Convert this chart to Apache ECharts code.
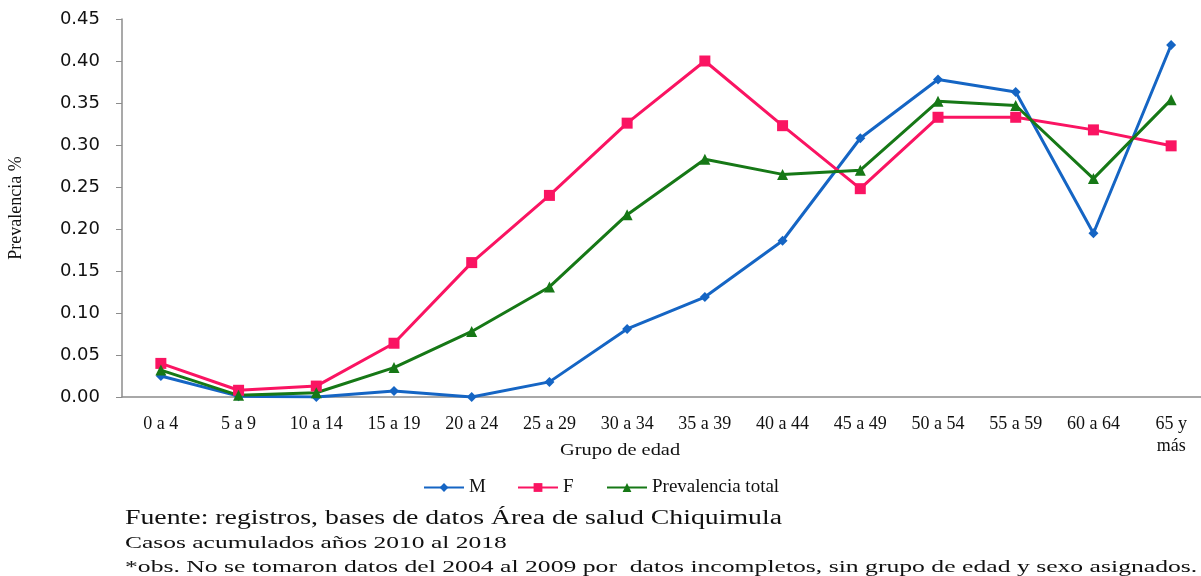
<!DOCTYPE html>
<html>
<head>
<meta charset="utf-8">
<script src="https://cdn.jsdelivr.net/npm/echarts@6/dist/echarts.min.js"></script>
<style>
  html, body { margin: 0; padding: 0; background: #fff; }
  #main { width: 1201px; height: 576px; }
</style>
</head>
<body>
<div id="main"></div>
<script>
// grupos de edad (eje x)
const categories = ['0 a 4', '5 a 9', '10 a 14', '15 a 19', '20 a 24', '25 a 29', '30 a 34',
  '35 a 39', '40 a 44', '45 a 49', '50 a 54', '55 a 59', '60 a 64', '65 y\nmás']
// prevalencia por sexo
const valuesM = [0.025, 0.001, 0.000, 0.007, 0.000, 0.018, 0.081, 0.119, 0.186, 0.308, 0.378, 0.363, 0.195, 0.419]
const valuesF = [0.040, 0.008, 0.013, 0.064, 0.160, 0.240, 0.326, 0.400, 0.323, 0.248, 0.333, 0.333, 0.318, 0.299]
const valuesTotal = [0.032, 0.002, 0.005, 0.035, 0.078, 0.131, 0.217, 0.283, 0.265, 0.270, 0.352, 0.347, 0.260, 0.354]
const yTicks = [0, 0.05, 0.10, 0.15, 0.20, 0.25, 0.30, 0.35, 0.40, 0.45]

const serif = 'Liberation Serif'
const axisGray = '#8c8c8c'

let chartDom = document.getElementById('main')
let myChart = echarts.init(chartDom)

// texto estirado horizontalmente, como en la imagen original
const stretchedText = (text, x, y, size, sx) => ({
  type: 'text',
  x: x,
  y: y,
  scaleX: sx,
  style: {text: text, font: size + 'px "Liberation Serif"', fill: '#111', verticalAlign: 'middle'}
})

const legendCommon = {
  top: 473,
  itemWidth: 40,
  itemHeight: 11,
  textStyle: {fontFamily: serif, fontSize: 19, color: '#111'}
}

let option = {
  animation: false,
  grid: {left: 122, top: 19, width: 1088, height: 378, outerBoundsMode: 'none'},
  legend: [
    Object.assign({left: 418, data: ['M']}, legendCommon),
    Object.assign({left: 512, data: ['F']}, legendCommon),
    Object.assign({left: 601, data: ['Prevalencia total']}, legendCommon)
  ],
  xAxis: {
    type: 'category',
    data: categories,
    axisLine: {lineStyle: {color: axisGray, width: 1.5}},
    axisTick: {lineStyle: {color: axisGray}, length: 5},
    axisLabel: {
      interval: 0,
      margin: 16,
      fontFamily: serif,
      fontSize: 18,
      color: '#111',
      lineHeight: 22,
      verticalAlign: 'top'
    }
  },
  yAxis: {
    type: 'value',
    min: 0,
    max: 0.45,
    interval: 0.05,
    name: 'Prevalencia %',
    nameLocation: 'middle',
    nameGap: 97,
    nameTextStyle: {fontFamily: serif, fontSize: 18, color: '#111'},
    splitLine: {show: false},
    axisLine: {show: true, lineStyle: {color: axisGray, width: 1.5}},
    axisTick: {show: true, length: 6, lineStyle: {color: axisGray}},
    axisLabel: {
      margin: 22,
      fontFamily: 'DejaVu Sans',
      fontSize: 18,
      color: '#111',
      formatter: v => yTicks.includes(+v.toFixed(2)) ? v.toFixed(2) : ''
    }
  },
  graphic: [
    stretchedText('Grupo de edad', 560, 451, 17, 1.2),
    stretchedText('Fuente: registros, bases de datos Área de salud Chiquimula', 125, 519, 20, 1.39),
    stretchedText('Casos acumulados años 2010 al 2018', 125, 544, 17, 1.5),
    stretchedText('*obs. No se tomaron datos del 2004 al 2009 por  datos incompletos, sin grupo de edad y sexo asignados.', 125, 568, 17, 1.51)
  ],
  series: [
    {
      name: 'M',
      type: 'line',
      data: valuesM,
      symbol: 'diamond',
      symbolSize: 10,
      lineStyle: {width: 3, color: '#1565c4'},
      itemStyle: {color: '#1565c4'}
    },
    {
      name: 'F',
      type: 'line',
      data: valuesF,
      symbol: 'rect',
      symbolSize: 11,
      lineStyle: {width: 3, color: '#fa1462'},
      itemStyle: {color: '#fa1462'}
    },
    {
      name: 'Prevalencia total',
      type: 'line',
      data: valuesTotal,
      symbol: 'triangle',
      symbolSize: 11,
      lineStyle: {width: 3, color: '#167816'},
      itemStyle: {color: '#167816'}
    }
  ]
}

myChart.setOption(option)
</script>
</body>
</html>
